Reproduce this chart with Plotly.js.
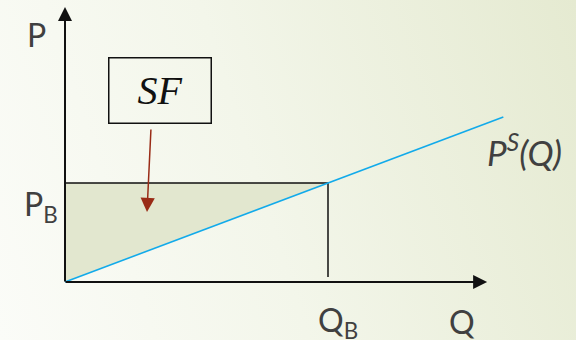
<!DOCTYPE html>
<html>
<head>
<meta charset="utf-8">
<script src="https://cdn.plot.ly/plotly-3.0.1.min.js"></script>
<style>
  html, body { margin: 0; padding: 0; }
  body { width: 576px; height: 340px; overflow: hidden;
         background: linear-gradient(72deg, #fbfcf8 0%, #f3f6ea 45%, #e5ead1 100%); }
  #chart { width: 576px; height: 340px; }
</style>
</head>
<body>
<div id="chart"></div>
<script>
// ---- data (economic units) ----
var supplyQ = [0, 10];          // quantity along the supply curve
var supplyP = [0, 5];           // price along the supply curve
var QB = 6;                     // equilibrium quantity
var PB = 3;                     // equilibrium price
var axisQmax = 9.63;            // end of Q axis arrow
var axisPmax = 8.33;            // end of P axis arrow
var surplusQ = [0, QB, 0];      // producer-surplus triangle
var surplusP = [PB, PB, 0];
var boxQ = [0, QB, QB];         // rectangle outline
var boxP = [PB, PB, 0.15];

// ---- scale: pixels per unit ----
var pxQ = 263 / QB, pxP = 99 / PB, x0 = 65, y0 = 282;
var W = 576, H = 340;
var xr = [-x0 / pxQ, (W - x0) / pxQ];
var yr = [-(H - y0) / pxP, y0 / pxP];

var txt = '#404040';
var labFont = {family: 'Lato, "Open Sans", sans-serif', size: 32, color: txt};
var supFont = {family: 'Lato, "Open Sans", sans-serif', size: 35, color: txt};

var traces = [
  {x: surplusQ, y: surplusP, mode: 'lines', fill: 'toself', fillcolor: '#e2e7cf',
   line: {width: 0}, hoverinfo: 'skip', showlegend: false},
  {x: boxQ, y: boxP, mode: 'lines', line: {color: '#111', width: 1.5},
   hoverinfo: 'skip', showlegend: false},
  {x: supplyQ, y: supplyP, mode: 'lines', line: {color: '#12aaea', width: 1.6},
   hoverinfo: 'skip', showlegend: false}
];

var arrow = function (x, y, ax, ay, color, w, size) {
  return {x: x, y: y, ax: ax, ay: ay, xref: 'x', yref: 'y', axref: 'x', ayref: 'y',
          text: '', showarrow: true, arrowhead: 2, arrowsize: size, arrowwidth: w,
          arrowcolor: color, standoff: 0, startstandoff: 0};
};

var annotations = [
  arrow(0, axisPmax, 0, -0.03, '#111', 2, 1.4),
  arrow(axisQmax, 0, -0.02, 0, '#111', 2, 1.4),
  arrow(1.871, 2.12, 1.962, 4.667, '#992b16', 1.5, 1.9),
  {x: -0.66, y: 7.5, xref: 'x', yref: 'y', text: 'P', showarrow: false,
   xanchor: 'center', yanchor: 'middle', font: labFont},
  {x: -0.12, y: 2.3, xref: 'x', yref: 'y', text: 'P<sub>B</sub>', showarrow: false,
   xanchor: 'right', yanchor: 'middle', font: labFont},
  {x: 5.72, y: -1.2, xref: 'x', yref: 'y', text: 'Q<sub>B</sub>', showarrow: false,
   xanchor: 'left', yanchor: 'middle', font: labFont},
  {x: 9.06, y: -1.2, xref: 'x', yref: 'y', text: 'Q', showarrow: false,
   xanchor: 'center', yanchor: 'middle', font: labFont},
  {x: 9.58, y: 4.0, xref: 'x', yref: 'y', text: '<i>P<sup>S</sup>(Q)</i>', showarrow: false,
   xanchor: 'left', yanchor: 'middle', font: supFont},
  {x: 2.17, y: 5.80, xref: 'x', yref: 'y', text: '<i>SF</i>', showarrow: false,
   xanchor: 'center', yanchor: 'middle', width: 101, height: 64, borderpad: 0,
   bordercolor: '#111', borderwidth: 1.5, bgcolor: 'rgba(0,0,0,0)',
   font: {family: '"Liberation Serif", "DejaVu Serif", serif', size: 40, color: '#111'}}
];

var layout = {
  width: W, height: H,
  margin: {l: 0, r: 0, t: 0, b: 0, pad: 0},
  paper_bgcolor: 'rgba(0,0,0,0)', plot_bgcolor: 'rgba(0,0,0,0)',
  xaxis: {range: xr, visible: false, fixedrange: true},
  yaxis: {range: yr, visible: false, fixedrange: true},
  annotations: annotations,
  showlegend: false
};

Plotly.newPlot('chart', traces, layout, {staticPlot: true, displayModeBar: false});
</script>
</body>
</html>
